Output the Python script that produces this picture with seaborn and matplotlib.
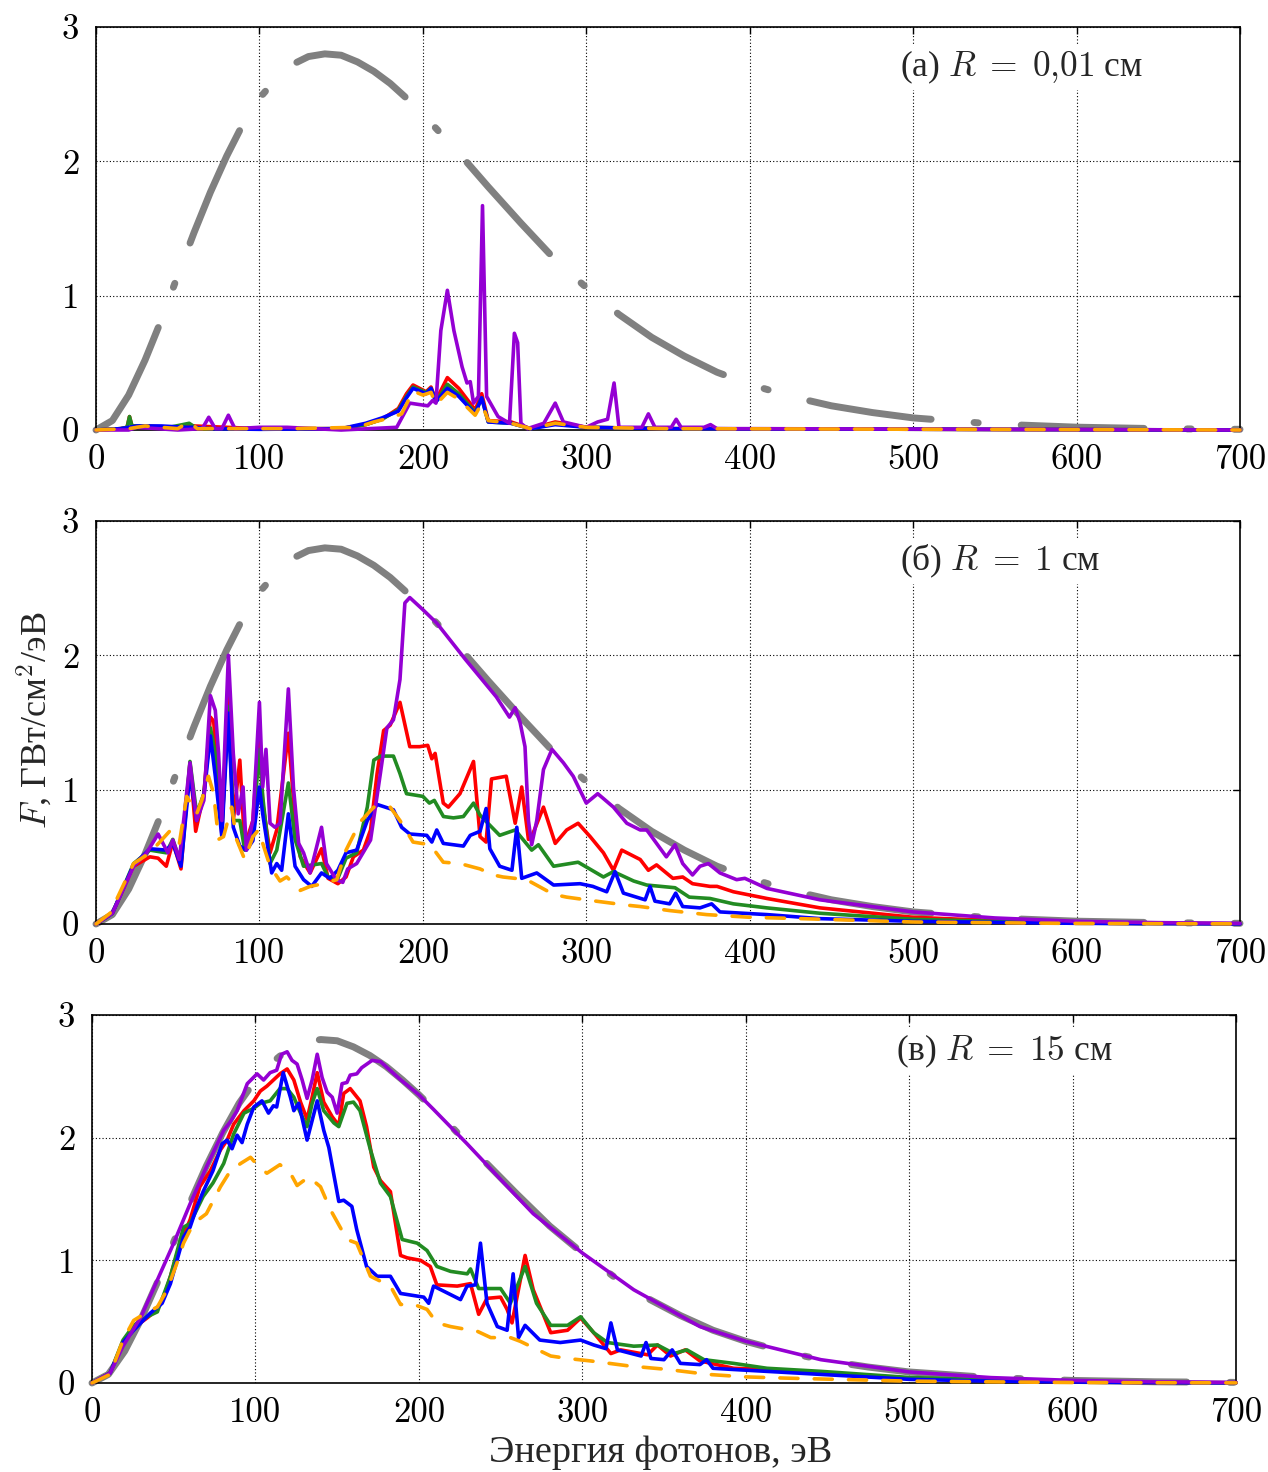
import matplotlib
matplotlib.use("Agg")
import matplotlib.pyplot as plt
import seaborn as sns
import pandas as pd

sns.set_style("white")
plt.rcParams["font.family"] = ["cmr10", "Liberation Serif"]
plt.rcParams["mathtext.fontset"] = "cm"
plt.rcParams["axes.unicode_minus"] = False

# ---------------- data (E [eV], F [GW/cm^2/eV]) ----------------
gray_E = [0, 10, 20, 30, 40, 50, 60, 70, 80, 90, 100, 110, 120, 130, 140, 150, 160, 170, 180, 190,
          200, 220, 240, 260, 280, 300, 320, 340, 360, 380, 400, 425, 450, 475, 500, 550, 600, 650, 700]
gray_F = [0, 0.07, 0.26, 0.52, 0.82, 1.15, 1.47, 1.77, 2.04, 2.28, 2.47, 2.61, 2.72, 2.78, 2.80, 2.79,
          2.74, 2.67, 2.58, 2.47, 2.35, 2.09, 1.81, 1.54, 1.28, 1.06, 0.86, 0.69, 0.55, 0.43, 0.34,
          0.25, 0.18, 0.13, 0.09, 0.044, 0.021, 0.010, 0.005]

# panel (a) R = 0.01 cm
a_red = [(0, 0), (15, 0.01), (19, 0.02), (20.5, 0.10), (22, 0.03), (30, 0.03), (45, 0.02), (60, 0.03),
         (100, 0.01), (150, 0.01), (165, 0.04), (175, 0.08), (185, 0.16), (190, 0.27), (194, 0.335),
         (198, 0.31), (202, 0.285), (205, 0.32), (208, 0.22), (215, 0.39), (222, 0.31), (232, 0.15),
         (236, 0.27), (240, 0.07), (254, 0.06), (266, 0.01), (281, 0.06), (300, 0.02), (350, 0.01), (700, 0)]
a_green = [(0, 0), (15, 0.01), (19, 0.02), (20.5, 0.10), (22, 0.03), (30, 0.03), (45, 0.02), (57, 0.05),
           (62, 0.01), (100, 0.01), (150, 0.01), (165, 0.04), (175, 0.08), (185, 0.15), (190, 0.25),
           (194, 0.32), (198, 0.30), (202, 0.28), (205, 0.31), (208, 0.21), (215, 0.34), (222, 0.27),
           (232, 0.13), (236, 0.24), (240, 0.06), (254, 0.05), (266, 0.01), (281, 0.05), (300, 0.02),
           (350, 0.01), (700, 0)]
a_blue = [(0, 0), (15, 0.01), (25, 0.03), (40, 0.03), (55, 0.02), (60, 0.02), (70, 0.01), (100, 0.005),
          (150, 0.01), (165, 0.05), (175, 0.09), (185, 0.14), (190, 0.24), (194, 0.31), (198, 0.29),
          (202, 0.27), (205, 0.31), (208, 0.21), (215, 0.31), (222, 0.25), (232, 0.12), (236, 0.24),
          (240, 0.06), (254, 0.05), (266, 0.01), (281, 0.04), (300, 0.02), (350, 0.01), (700, 0)]
a_orange = [(0, 0), (20, 0.01), (30, 0.03), (40, 0.02), (50, 0.01), (57, 0.06), (62, 0.01), (90, 0.01),
            (120, 0.01), (160, 0.02), (170, 0.06), (180, 0.09), (187, 0.12), (194, 0.29), (200, 0.26),
            (205, 0.28), (208, 0.19), (215, 0.28), (222, 0.23), (232, 0.11), (236, 0.20), (240, 0.07),
            (254, 0.05), (266, 0.01), (281, 0.05), (300, 0.02), (350, 0.01), (700, 0)]
a_purple = [(0, 0), (20, 0.0), (25, 0.02), (50, 0.0), (65, 0.01), (69, 0.095), (73, 0.01), (77, 0.01),
            (81, 0.11), (85, 0.01), (100, 0.02), (117, 0.02), (150, 0.0), (184, 0.02), (192, 0.20),
            (203, 0.18), (206, 0.22), (208, 0.20), (211, 0.74), (215, 1.04), (219, 0.74), (224, 0.47),
            (227, 0.35), (229, 0.36), (231, 0.20), (234, 0.25), (236.5, 1.67), (239, 0.25), (246, 0.10),
            (253, 0.05), (256, 0.72), (258, 0.65), (260, 0.05), (264, 0.01), (274, 0.05), (281, 0.20),
            (286, 0.06), (300, 0.02), (307, 0.06), (313, 0.08), (317, 0.35), (320, 0.02), (334, 0.02),
            (338, 0.12), (342, 0.02), (352, 0.02), (355, 0.08), (358, 0.02), (372, 0.02), (376, 0.04),
            (380, 0.01), (400, 0.01), (700, 0)]

# panel (b) R = 1 cm
b_red = [(0, 0), (10, 0.08), (23, 0.43), (33, 0.50), (38, 0.49), (43, 0.43), (47, 0.61), (52, 0.41),
         (57.5, 1.20), (61, 0.69), (66, 0.97), (70, 1.54), (72, 1.51), (77, 0.67), (81, 1.79), (84, 0.77),
         (88, 1.22), (91, 0.58), (96, 0.77), (100, 1.47), (102, 0.90), (106.5, 0.53), (110.6, 0.70),
         (117.7, 1.42), (121.8, 0.77), (125, 0.50), (131, 0.38), (138, 0.56), (142, 0.34), (148, 0.30),
         (153, 0.35), (157.5, 0.50), (163.6, 0.55), (168, 0.70), (172, 1.12), (176, 1.44), (180, 1.48),
         (186, 1.65), (192, 1.32), (198, 1.32), (203, 1.33), (205.5, 1.23), (207.5, 1.27), (212.5, 0.90),
         (215.6, 0.87), (222.7, 0.97), (231, 1.21), (235, 0.65), (238.7, 0.61), (242, 1.08), (251, 1.10),
         (256.5, 0.75), (260.5, 1.02), (264.6, 0.63), (266.6, 0.65), (273.8, 0.87), (281, 0.60),
         (288, 0.70), (295, 0.75), (302.4, 0.65), (310.5, 0.53), (316.6, 0.40), (321.7, 0.55), (333, 0.48),
         (338, 0.40), (343, 0.44), (353, 0.34), (359, 0.35), (365, 0.30), (375.7, 0.28), (380, 0.28),
         (390, 0.24), (410.5, 0.19), (443, 0.12), (500, 0.05), (550, 0.025), (600, 0.01), (650, 0.005),
         (700, 0.002)]
b_green = [(0, 0), (10, 0.08), (23, 0.45), (33, 0.55), (43, 0.53), (47, 0.63), (52, 0.45), (57.5, 1.21),
           (61.6, 0.82), (66, 0.97), (70, 1.46), (73, 1.27), (77, 0.70), (81, 1.62), (84, 0.77), (88, 0.77),
           (91, 0.55), (96, 0.70), (100, 1.30), (102, 0.95), (106.5, 0.45), (110.6, 0.55), (117.7, 1.05),
           (121.8, 0.63), (127, 0.43), (138, 0.45), (142, 0.35), (148, 0.34), (153, 0.49), (159.5, 0.53),
           (166, 0.87), (170, 1.22), (174, 1.25), (182, 1.25), (186, 1.12), (190, 0.97), (200, 0.95),
           (204, 0.90), (207, 0.92), (212.6, 0.80), (218.7, 0.79), (224.8, 0.80), (231, 0.90), (235, 0.81),
           (247, 0.66), (256.5, 0.70), (266.6, 0.55), (270.7, 0.59), (280, 0.43), (295, 0.46), (310.5, 0.35),
           (316.6, 0.39), (329, 0.32), (337, 0.29), (354.3, 0.27), (363, 0.20), (375.7, 0.19), (390, 0.15),
           (410.5, 0.12), (443, 0.08), (500, 0.035), (550, 0.02), (600, 0.01), (650, 0.004), (700, 0.002)]
b_blue = [(0, 0), (10, 0.08), (23, 0.44), (33, 0.56), (43, 0.55), (47, 0.60), (52, 0.43), (57.5, 1.12),
          (61.6, 0.77), (66, 0.95), (70, 1.40), (73, 1.10), (77, 0.65), (81, 1.57), (84, 0.72), (88, 0.58),
          (92, 0.55), (96, 0.62), (100, 1.02), (102, 0.82), (107.5, 0.38), (110.6, 0.45), (113.6, 0.40),
          (117.7, 0.82), (121.8, 0.43), (127, 0.33), (132, 0.28), (138, 0.38), (143, 0.34), (148, 0.40),
          (153, 0.53), (159.5, 0.55), (166, 0.77), (172, 0.89), (182, 0.85), (187, 0.72), (192, 0.67),
          (202.4, 0.66), (205.5, 0.61), (208.5, 0.70), (212.5, 0.60), (224.8, 0.58), (229, 0.66),
          (235, 0.69), (238.7, 0.86), (241, 0.56), (247, 0.43), (254.5, 0.40), (257.5, 0.72), (260.5, 0.34),
          (269.7, 0.38), (280, 0.29), (296.2, 0.30), (304, 0.28), (312.5, 0.24), (317.6, 0.39),
          (322.7, 0.23), (336, 0.18), (339, 0.28), (342, 0.17), (351, 0.15), (354.7, 0.23), (359, 0.13),
          (369.6, 0.12), (376.7, 0.15), (381.8, 0.09), (410.5, 0.07), (443, 0.04), (500, 0.02),
          (600, 0.005), (700, 0.001)]
b_orange = [(0, 0), (8.6, 0.08), (23, 0.45), (33, 0.53), (45, 0.69), (51, 0.60), (55.5, 0.95), (61.6, 0.82),
            (64.7, 0.92), (68.8, 1.10), (72, 0.97), (75, 0.63), (78, 0.65), (83, 0.87), (86, 0.63),
            (91, 0.48), (96, 0.65), (99.4, 0.70), (106.5, 0.43), (112.6, 0.32), (116.7, 0.35), (125, 0.25),
            (131, 0.28), (139, 0.30), (147.3, 0.33), (153, 0.55), (161.6, 0.76), (170, 0.87), (180, 0.87),
            (186, 0.77), (194, 0.61), (204.5, 0.59), (212.5, 0.46), (222.7, 0.45), (235, 0.41), (243, 0.365),
            (249, 0.35), (263.5, 0.33), (280, 0.22), (288, 0.20), (306, 0.17), (325, 0.14), (333, 0.13),
            (351, 0.10), (373.6, 0.07), (400, 0.05), (431, 0.04), (500, 0.015), (600, 0.004), (700, 0.001)]
b_purple = [(0, 0), (10, 0.08), (23, 0.43), (31, 0.53), (38, 0.67), (44, 0.53), (47, 0.625), (51, 0.48),
            (57.5, 1.20), (61.6, 0.77), (66, 0.92), (70, 1.70), (73, 1.59), (75, 1.27), (77, 0.77), (81, 2.0),
            (84, 1.27), (87, 0.82), (90, 1.02), (92, 0.55), (96, 0.77), (100, 1.65), (102, 1.02), (104, 1.30),
            (106.5, 0.75), (109.5, 0.72), (112.6, 0.75), (117.7, 1.75), (120.8, 1.02), (124, 0.60),
            (127, 0.53), (131, 0.38), (138, 0.72), (141, 0.45), (147, 0.33), (151, 0.31), (154, 0.41),
            (159.5, 0.45), (168, 0.625), (174, 1.12), (178, 1.46), (182, 1.52), (186, 1.82), (189, 2.39),
            (192, 2.43), (200, 2.34), (208.5, 2.24), (226, 1.97), (245, 1.69), (253, 1.54), (256.5, 1.61),
            (259.5, 1.50), (262.5, 1.32), (264.6, 0.77), (266.6, 0.59), (269.7, 0.77), (273.8, 1.15),
            (279, 1.30), (286, 1.20), (292, 1.10), (300, 0.90), (307, 0.97), (316.6, 0.87), (324.8, 0.75),
            (333, 0.70), (337, 0.70), (343, 0.60), (349, 0.50), (354.3, 0.59), (359, 0.45), (365, 0.365),
            (369.6, 0.43), (374.7, 0.45), (381.8, 0.38), (392, 0.33), (397, 0.34), (410.5, 0.265),
            (443, 0.18), (500, 0.09), (550, 0.045), (600, 0.02), (650, 0.01), (700, 0.005)]

# panel (c) R = 15 cm
c_red = [(0, 0), (11, 0.08), (19, 0.33), (25.5, 0.45), (33.7, 0.53), (40, 0.60), (44, 0.70), (48, 0.87),
         (54, 1.14), (60, 1.33), (66, 1.60), (72.4, 1.73), (78.6, 1.90), (82.7, 1.98), (86.7, 2.11), (93, 2.22),
         (99, 2.30), (103, 2.38), (107, 2.42), (111, 2.47), (115, 2.52), (119.4, 2.56), (123.5, 2.47),
         (127.6, 2.29), (131.6, 2.15), (134.7, 2.33), (137.8, 2.53), (141.8, 2.29), (147, 2.17), (151, 2.10),
         (154, 2.36), (158, 2.40), (164, 2.30), (168, 2.09), (172.4, 1.76), (176.5, 1.65), (182.6, 1.56),
         (188.8, 1.04), (192.9, 1.02), (201, 1.00), (207, 0.95), (211, 0.80), (223.5, 0.79), (231.6, 0.81),
         (236.6, 0.56), (241.7, 0.69), (250, 0.70), (254, 0.60), (257, 0.49), (265, 1.04), (270, 0.76),
         (280.7, 0.41), (291, 0.43), (299, 0.53), (307, 0.41), (317.5, 0.24), (323.5, 0.27), (340, 0.23),
         (346, 0.31), (354, 0.22), (363, 0.27), (372, 0.18), (392.6, 0.12), (413, 0.11), (446, 0.08),
         (500, 0.04), (550, 0.02), (600, 0.01), (650, 0.004), (700, 0.002)]
c_green = [(0, 0), (11, 0.08), (19, 0.35), (25.5, 0.47), (33.7, 0.54), (40, 0.58), (48, 0.87), (56, 1.27),
           (60, 1.30), (68, 1.52), (74, 1.63), (80.6, 1.79), (86.7, 2.03), (93, 2.20), (99, 2.24), (103, 2.28),
           (109, 2.30), (115, 2.40), (119.4, 2.40), (123.5, 2.33), (127.6, 2.20), (131.6, 2.09),
           (134.7, 2.28), (137.8, 2.40), (141.8, 2.22), (148, 2.12), (151, 2.09), (156, 2.28), (160, 2.29),
           (164, 2.22), (170.4, 1.90), (176.5, 1.63), (182.6, 1.52), (189.8, 1.17), (199, 1.14), (205, 1.08),
           (211, 0.95), (219.4, 0.91), (229.6, 0.89), (231.6, 0.93), (236.6, 0.77), (250, 0.77), (256, 0.65),
           (265, 0.95), (272, 0.65), (280.7, 0.47), (291, 0.47), (299, 0.54), (307, 0.41), (315.4, 0.33),
           (331.5, 0.30), (346, 0.31), (356, 0.24), (364, 0.27), (374.5, 0.19), (392.6, 0.16), (413, 0.12),
           (446, 0.095), (500, 0.045), (550, 0.025), (600, 0.012), (650, 0.005), (700, 0.002)]
c_blue = [(0, 0), (11, 0.08), (19, 0.33), (25.5, 0.43), (35.7, 0.57), (42.9, 0.65), (48, 0.81), (52, 1.00),
          (56, 1.19), (60, 1.27), (64.3, 1.44), (68, 1.56), (74, 1.73), (79.6, 1.95), (82.7, 1.98),
          (85.7, 1.91), (88.8, 2.02), (91.8, 1.96), (95, 2.11), (99, 2.25), (104, 2.30), (108, 2.20),
          (111, 2.26), (113, 2.25), (117, 2.53), (121.4, 2.33), (123.5, 2.22), (126.5, 2.28), (131.6, 1.98),
          (134.7, 2.14), (137.8, 2.30), (141.8, 2.06), (144.9, 1.92), (151, 1.48), (154, 1.49), (159, 1.44),
          (162, 1.25), (168, 0.95), (174.5, 0.87), (182.6, 0.87), (188.8, 0.73), (203, 0.70), (206, 0.65),
          (209, 0.79), (215, 0.75), (225.5, 0.68), (229.5, 0.79), (234.6, 0.80), (237.7, 1.14), (241.7, 0.65),
          (248, 0.46), (254, 0.43), (257.7, 0.89), (261, 0.37), (265, 0.47), (274, 0.35), (286.5, 0.33),
          (299, 0.35), (307, 0.31), (314.5, 0.28), (317.5, 0.49), (321.5, 0.27), (336, 0.22), (339, 0.33),
          (342, 0.20), (350, 0.19), (355, 0.27), (360, 0.16), (372, 0.15), (376, 0.19), (380, 0.12),
          (392.6, 0.11), (446, 0.07), (500, 0.03), (550, 0.015), (600, 0.008), (650, 0.003), (700, 0.001)]
c_orange = [(0, 0), (11, 0.07), (19, 0.35), (25.5, 0.51), (31.6, 0.56), (40, 0.62), (46, 0.76), (52, 0.98),
            (56, 1.14), (62, 1.30), (70, 1.38), (78.6, 1.60), (84.7, 1.73), (91, 1.79), (97, 1.84), (101, 1.78),
            (107, 1.71), (115, 1.78), (121.4, 1.71), (125.5, 1.61), (132.6, 1.68), (139.8, 1.60), (146, 1.41),
            (156, 1.17), (162, 1.14), (170.4, 0.87), (182.6, 0.79), (188.8, 0.64), (197, 0.64), (205, 0.60),
            (211, 0.49), (219.4, 0.46), (236, 0.42), (244, 0.37), (256, 0.37), (262, 0.34), (280.7, 0.22),
            (291, 0.20), (305, 0.18), (328, 0.14), (352.5, 0.11), (377, 0.07), (399.5, 0.05), (424, 0.04),
            (500, 0.015), (600, 0.004), (700, 0.001)]
c_purple = [(0, 0), (11, 0.08), (19, 0.30), (30, 0.54), (40, 0.84), (50, 1.14), (60, 1.46), (70, 1.76),
            (80.6, 2.06), (84.7, 2.13), (88.8, 2.22), (95, 2.44), (101, 2.52), (105, 2.47), (109, 2.53),
            (113, 2.55), (116, 2.68), (119.4, 2.70), (122.4, 2.63), (125.5, 2.60), (128.6, 2.47),
            (131.6, 2.32), (134.7, 2.47), (137.8, 2.68), (140.8, 2.49), (143.9, 2.37), (147, 2.33), (150, 2.20),
            (153, 2.44), (156, 2.45), (158, 2.51), (162, 2.52), (165, 2.57), (171.4, 2.63), (176.5, 2.62),
            (189, 2.47), (200, 2.35), (209, 2.23), (229.5, 1.95), (250, 1.66), (270, 1.38), (300, 1.06),
            (331.5, 0.76), (372, 0.46), (400, 0.34), (446, 0.19), (500, 0.09), (550, 0.044), (600, 0.021),
            (650, 0.01), (700, 0.005)]

panel_titles = ["(а) $R\\;=\\;0{,}01$ см", "(б) $R\\;=\\;1$ см", "(в) $R\\;=\\;15$ см"]
panel_series = [
    dict(red=a_red, green=a_green, blue=a_blue, purple=a_purple, orange=a_orange),
    dict(red=b_red, green=b_green, blue=b_blue, purple=b_purple, orange=b_orange),
    dict(red=c_red, green=c_green, blue=c_blue, purple=c_purple, orange=c_orange),
]
x_ticks = [0, 100, 200, 300, 400, 500, 600, 700]
y_ticks = [0, 1, 2, 3]

# ---------------- styling ----------------
colors = dict(red="#ff0000", green="#228b22", blue="#0000ff", purple="#9400d3", orange="#ffa500")
zorders = dict(red=3, green=4, blue=5, purple=6, orange=7)
W, H = 1268, 1472
fig = plt.figure(figsize=(W / 100, H / 100), dpi=100)
rects = [
    (96 / W, 1 - 430 / H, 1144 / W, 403 / H),
    (96 / W, 1 - 924 / H, 1144 / W, 403 / H),
    (92 / W, 1 - 1383 / H, 1144 / W, 368 / H),
]
cyr = "Liberation Serif"

for rect, series, title in zip(rects, panel_series, panel_titles):
    ax = fig.add_axes(rect)
    gdf = pd.DataFrame({"E": gray_E, "F": gray_F})
    sns.lineplot(data=gdf, x="E", y="F", ax=ax, color="#808080", linewidth=5.0,
                 linestyle=(0, (17.7, 6.2, 0.6, 6.2)), dash_capstyle="round",
                 solid_capstyle="round", sort=False, estimator=None, zorder=2, clip_on=False)
    for name in ["red", "green", "blue", "purple", "orange"]:
        pts = series[name]
        df = pd.DataFrame(pts, columns=["E", "F"])
        if name == "orange":
            ls = (0, (5.0, 4.5))
        else:
            ls = "-"
        sns.lineplot(data=df, x="E", y="F", ax=ax, color=colors[name], linewidth=2.6,
                     linestyle=ls, dash_capstyle="round", solid_capstyle="round",
                     solid_joinstyle="round", sort=False, estimator=None,
                     zorder=zorders[name], clip_on=False)
    ax.set_xlim(0, 700)
    ax.set_ylim(0, 3)
    ax.set_xticks(x_ticks)
    ax.set_yticks(y_ticks)
    ax.set_xlabel("")
    ax.set_ylabel("")
    ax.grid(True, color="black", linestyle=(0, (1, 2)), linewidth=0.8)
    for sp in ax.spines.values():
        sp.set_linewidth(1.2)
        sp.set_color("black")
    ax.tick_params(direction="in", length=5, width=1, top=True, right=True,
                   labelsize=25, colors="black")
    ax.tick_params(axis="x", pad=10)
    ax.tick_params(axis="y", pad=12)
    ax.text(492, 2.70, title, fontsize=25.5, family=cyr, va="center", ha="left",
            bbox=dict(facecolor="white", edgecolor="none", pad=3), zorder=10)

fig.text(35 / W, 1 - 720 / H, "$F$, ГВт/см$^2$/эВ", rotation=90, fontsize=26,
         family=cyr, ha="center", va="center")
fig.text(661 / W, 1 - 1453 / H, "Энергия фотонов, эВ", fontsize=27.5, family=cyr,
         ha="center", va="center")

fig.savefig("out.png", dpi=100)
